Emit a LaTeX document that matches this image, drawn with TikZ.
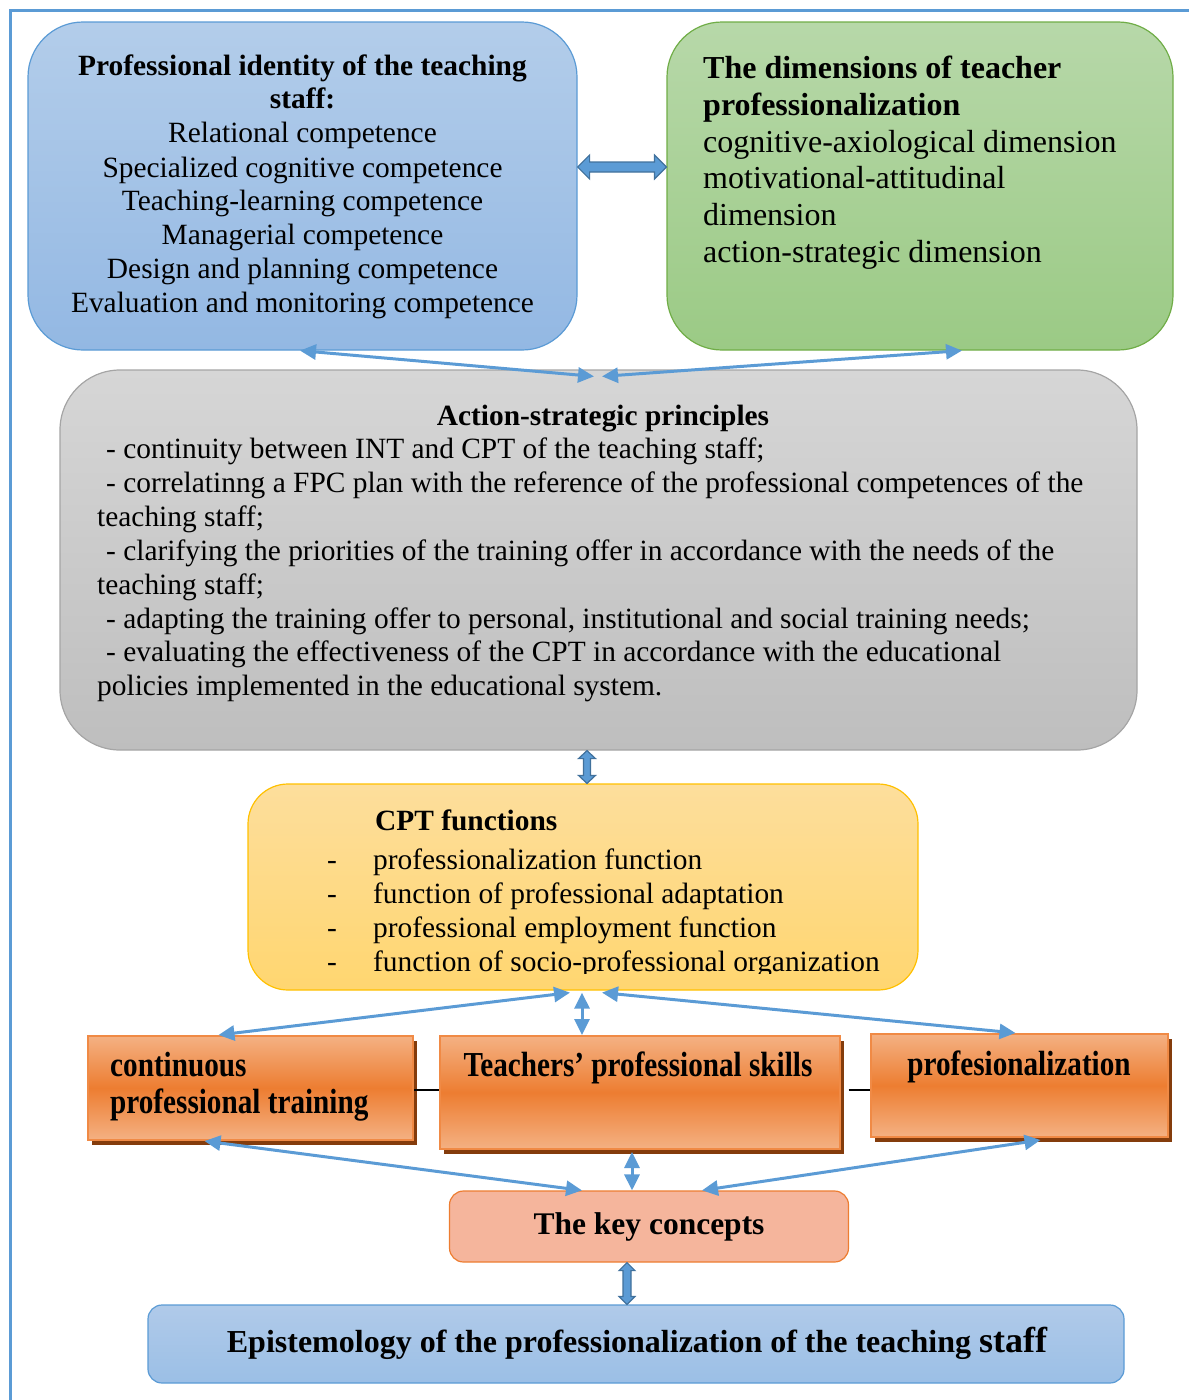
\documentclass[tikz,border=0pt]{standalone}
\usepackage{fontspec}
\usepackage{graphicx}
\setmainfont{Liberation Serif}
\usetikzlibrary{arrows.meta,shadows,calc}
\definecolor{bBorder}{HTML}{5B9BD5}
\definecolor{bTop}{HTML}{B3CDEA}
\definecolor{bBot}{HTML}{93B8E3}
\definecolor{gBorder}{HTML}{70AD47}
\definecolor{gTop}{HTML}{B7D8A9}
\definecolor{gBot}{HTML}{9BCA85}
\definecolor{grBorder}{HTML}{A5A5A5}
\definecolor{grTop}{HTML}{D6D6D6}
\definecolor{grBot}{HTML}{BEBEBE}
\definecolor{yBorder}{HTML}{FFC000}
\definecolor{yTop}{HTML}{FDDE9C}
\definecolor{yBot}{HTML}{FFD670}
\definecolor{oBorder}{HTML}{F08A45}
\definecolor{oTop}{HTML}{F4B183}
\definecolor{oMid}{HTML}{ED7D31}
\definecolor{oShadow}{HTML}{843C0C}
\definecolor{kFill}{HTML}{F5B59C}
\definecolor{kBorder}{HTML}{ED7D31}
\definecolor{eTop}{HTML}{B0CAE9}
\definecolor{eBot}{HTML}{9BBFE6}
\definecolor{arrBlue}{HTML}{5B9BD5}
\definecolor{arrDark}{HTML}{41719C}
\newcommand\bodyfont{\fontsize{29.4}{34}\selectfont}
\newcommand\greenfont{\fontsize{32}{37}\selectfont}
\begin{document}
\begin{tikzpicture}[x=1pt,y=-1pt,
  boxbase/.style={draw, line width=1.2pt, inner sep=0pt},
  bluebox/.style={boxbase, draw=bBorder, top color=bTop, bottom color=bBot, rounded corners=55pt},
  greenbox/.style={boxbase, draw=gBorder, top color=gTop, bottom color=gBot, rounded corners=55pt},
  graybox/.style={boxbase, draw=grBorder, top color=grTop, bottom color=grBot, rounded corners=60pt},
  yellowbox/.style={boxbase, draw=yBorder, top color=yTop, bottom color=yBot, rounded corners=40pt},
  orangebox/.style={boxbase, draw=oBorder, line width=2pt, top color=oTop, bottom color=oTop, middle color=oMid,
     general shadow={fill=oShadow, shadow xshift=4pt, shadow yshift=-5pt}},
  keybox/.style={boxbase, draw=kBorder, fill=kFill, rounded corners=14pt},
  epibox/.style={boxbase, draw=bBorder, top color=eTop, bottom color=eBot, rounded corners=14pt},
  blockarr/.style={draw=arrDark, fill=arrBlue, line width=1.2pt, line join=miter},
  biarr/.style={draw=arrBlue, line width=3pt,
     {Triangle[length=16pt,width=15pt]}-{Triangle[length=16pt,width=15pt]}},
  link/.style={draw=black, line width=1.5pt},
  frameline/.style={draw=bBorder, line width=3pt},
  ct/.style={inner sep=0pt, anchor=base, font=\bodyfont},
  lt/.style={inner sep=0pt, anchor=base west, font=\bodyfont},
  bct/.style={ct, font=\bodyfont\bfseries},
  blt/.style={lt, font=\bodyfont\bfseries},
  glt/.style={lt, font=\greenfont},
  gblt/.style={lt, font=\greenfont\bfseries},
  ot/.style={inner sep=0pt, font=\fontsize{29.2}{34}\selectfont\bfseries}
]
\useasboundingbox (0,0) rectangle (1189,1400);
\draw[frameline] (10,1400) -- (10,10) -- (1189,10);

% boxes
\node[bluebox, minimum width=549pt, minimum height=328pt] (pid) at (302.5,186) {};
\node[greenbox, minimum width=506pt, minimum height=328pt] (dim) at (920,186) {};
\node[graybox, minimum width=1077pt, minimum height=380pt] (asp) at (598.5,560) {};
\node[yellowbox, minimum width=670pt, minimum height=206pt] (cpt) at (583,887) {};
\node[orangebox, minimum width=325pt, minimum height=104pt] (ctr) at (250.5,1088) {};
\node[orangebox, minimum width=400pt, minimum height=113pt] (tps) at (639.5,1092.5) {};
\node[orangebox, minimum width=297pt, minimum height=103pt] (prof) at (1019.5,1085.5) {};
\node[keybox, minimum width=399pt, minimum height=71pt] (kc) at (649,1226.5) {};
\node[epibox, minimum width=976pt, minimum height=78pt] (epi) at (636,1344) {};

% block double arrows (drawn as outlines between the boxes)
\coordinate (h1a) at ($(pid.east)+(0,-19)$);
\coordinate (h1b) at ($(dim.west)+(0,-19)$);
\filldraw[blockarr] (h1a) -- ++(12,-12) -- ++(0,7) -- ($(h1b)+(-12,-5)$) -- ++(0,-7) -- (h1b)
   -- ++(-12,12) -- ++(0,-7) -- ($(h1a)+(12,5)$) -- ++(0,7) -- cycle;
\coordinate (v1a) at ($(asp.south)+(-11.5,0)$);
\coordinate (v1b) at ($(cpt.north)+(4,0)$);
\filldraw[blockarr] (v1a) -- ++(8.5,8) -- ++(-5,0) -- ($(v1b)+(3.5,-8)$) -- ++(5,0) -- (v1b)
   -- ++(-8.5,-8) -- ++(5,0) -- ($(v1a)+(-3.5,8)$) -- ++(-5,0) -- cycle;
\coordinate (v2a) at ($(kc.south)+(-22,0)$);
\coordinate (v2b) at ($(epi.north)+(-9,0)$);
\filldraw[blockarr] (v2a) -- ++(8,8) -- ++(-4,0) -- ($(v2b)+(4,-8)$) -- ++(4,0) -- (v2b)
   -- ++(-8,-8) -- ++(4,0) -- ($(v2a)+(-4,8)$) -- ++(-4,0) -- cycle;

% thin arrows
\draw[biarr] ([xshift=-2.5pt]pid.south) -- ([xshift=-4.5pt,yshift=-7pt]asp.north);
\draw[biarr] ([xshift=42pt]dim.south) -- ([xshift=3.5pt,yshift=-7pt]asp.north);
\draw[biarr] ([xshift=-13pt,yshift=-2pt]cpt.south) -- ([xshift=-32pt]ctr.north);
\draw[biarr] ([xshift=-1pt,yshift=-2pt]cpt.south) -- ([xshift=-57.5pt]tps.north);
\draw[biarr] ([xshift=19pt,yshift=-2pt]cpt.south) -- ([xshift=-4pt]prof.north);
\draw[biarr] ([xshift=-46pt]ctr.south) -- ([xshift=-67pt]kc.north);
\draw[biarr] ([xshift=21pt,yshift=-2pt]prof.south) -- ([xshift=53pt]kc.north);
\draw[biarr] ([xshift=-7.5pt,yshift=-2pt]tps.south) -- ([xshift=-17pt]kc.north);

% links between orange boxes
\draw[link] ([yshift=-2pt]ctr.east) -- ([yshift=-2pt]ctr.east -| tps.west);
\draw[link] ([xshift=8pt,yshift=-4.5pt]prof.west -| tps.east) -- ([yshift=-4.5pt]prof.west);

% blue box text
\node[bct] (p0) at (302.5,75) {Professional identity of the teaching};
\node[bct] (p1) at (302.5,108) {staff:};
\node[ct] (p2) at (302.5,142) {Relational competence};
\node[ct] (p3) at (302.5,177) {Specialized cognitive competence};
\node[ct] (p4) at (302.5,210) {Teaching-learning competence};
\node[ct] (p5) at (302.5,244) {Managerial competence};
\node[ct] (p6) at (302.5,278) {Design and planning competence};
\node[ct] (p7) at (302.5,312) {Evaluation and monitoring competence};

% green box text
\node[gblt] (d0) at (703,78) {The dimensions of teacher};
\node[gblt] (d1) at (703,115) {professionalization};
\node[glt] (d2) at (703,152) {cognitive-axiological dimension};
\node[glt] (d3) at (703,188) {motivational-attitudinal};
\node[glt] (d4) at (703,225) {dimension};
\node[glt] (d5) at (703,262) {action-strategic dimension};

% gray box text
\node[bct] (a0) at (603,425) {Action-strategic principles};
\node[lt] (a1) at (106,458) {- continuity between INT and CPT of the teaching staff;};
\node[lt] (a2) at (106,492) {- correlatinng a FPC plan with the reference of the professional competences of the};
\node[lt] (a3) at (97,526) {teaching staff;};
\node[lt] (a4) at (106,560) {- clarifying the priorities of the training offer in accordance with the needs of the};
\node[lt] (a5) at (97,594) {teaching staff;};
\node[lt] (a6) at (106,628) {- adapting the training offer to personal, institutional and social training needs;};
\node[lt] (a7) at (106,661) {- evaluating the effectiveness of the CPT in accordance with the educational};
\node[lt] (a8) at (97,695) {policies implemented in the educational system.};

% yellow box text
\begin{scope}
\clip (248,784) rectangle (918,973);
\node[blt] (c0) at (375,830) {CPT functions};
\node[lt] (c1d) at (327,869) {-};
\node[lt] (c1) at (373,869) {professionalization function};
\node[lt] (c2d) at (327,903) {-};
\node[lt] (c2) at (373,903) {function of professional adaptation};
\node[lt] (c3d) at (327,937) {-};
\node[lt] (c3) at (373,937) {professional employment function};
\node[lt] (c4d) at (327,971) {-};
\node[lt] (c4) at (373,971) {function of socio-professional organization};
\end{scope}

% orange text
\node[ot, anchor=base west] (o1) at (110,1076) {\scalebox{1}[1.2]{continuous}};
\node[ot, anchor=base west] (o2) at (110,1113) {\scalebox{1}[1.2]{professional training}};
\node[ot, anchor=base] (o3) at (638,1076) {\scalebox{1}[1.2]{Teachers’ professional skills}};
\node[ot, anchor=base] (o4) at (1019,1075) {\scalebox{1}[1.2]{profesionalization}};

% key concepts
\node[inner sep=0pt, anchor=base, font=\fontsize{31.5}{36}\selectfont\bfseries] (k0) at (649,1234) {The key concepts};
% epistemology
\node[inner sep=0pt, anchor=base, font=\fontsize{32}{36}\selectfont\bfseries] (e0) at (637,1352) {Epistemology of the professionalization of the teaching {\fontsize{36}{36}\selectfont staff}};
\end{tikzpicture}
\end{document}
